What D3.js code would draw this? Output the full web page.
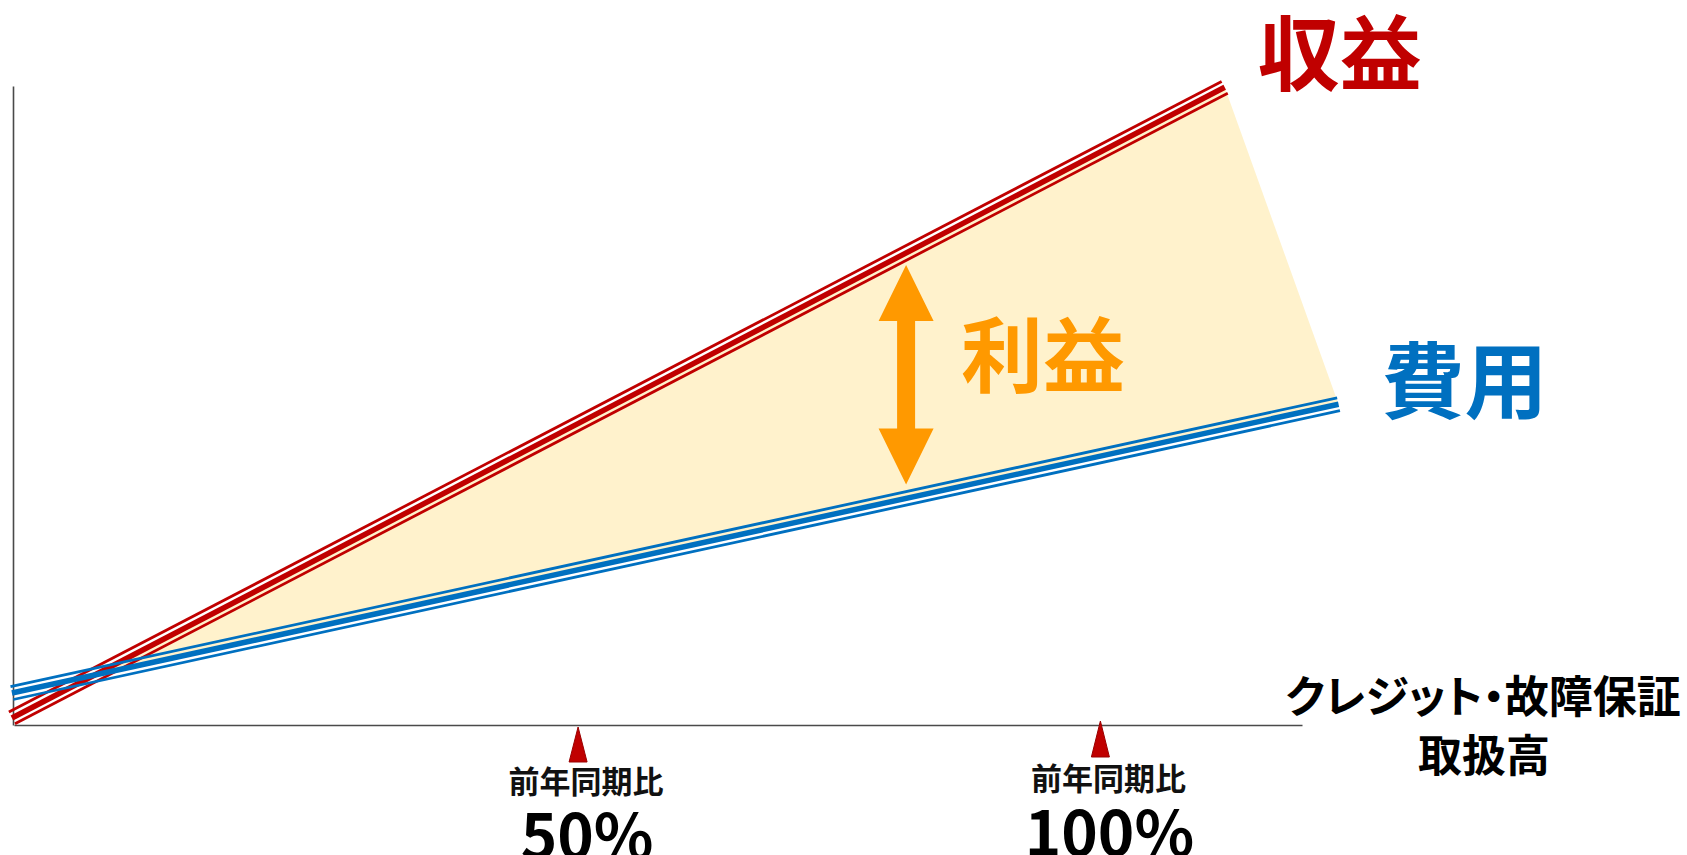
<!DOCTYPE html>
<html lang="ja">
<head>
<meta charset="utf-8">
<script src="https://cdn.jsdelivr.net/npm/d3@7"></script>
<style>
  html, body { margin: 0; padding: 0; background: #fff; }
  svg { display: block; font-family: "Noto Sans CJK JP", "Noto Sans", sans-serif; font-weight: bold; }
  .palt { font-feature-settings: "palt" 1; }
</style>
</head>
<body>
<svg id="chart" width="1687" height="855"></svg>
<script>
// Handling volume (x) and amount (y), in chart units
const xDomain = [-4, 119.3];
const yDomain = [0, 100];

// Revenue and cost lines (start / end points)
const revenue = [{x: -4.2, y: 1.1}, {x: 111.9, y: 99.8}];
const cost    = [{x: -4.2, y: 5.0}, {x: 122.8, y: 50.2}];

// Year-over-year markers on the x axis
const markerValues = [50, 100];
const markerLabels = ["前年同期比", "前年同期比"];
const markerPercents = ["50%", "100%"];

// Texts
const revenueLabel = "収益";
const costLabel = "費用";
const profitLabel = "利益";
const axisTitle = ["クレジット・故障保証", "取扱高"];
const profitArrowAt = 81.4;

const svg = d3.select("#chart");

const x = d3.scaleLinear().domain(xDomain).range([14, 1302]);
const y = d3.scaleLinear().domain(yDomain).range([725, 86]);

const RED = "#C00000", BLUE = "#0070C0", ORANGE = "#FF9900", FILL = "#FFF2CC";

// Value of a two-point line at xv
function lineAt(pts, xv) {
  const [a, b] = pts;
  return a.y + (b.y - a.y) * (xv - a.x) / (b.x - a.x);
}
// Intersection of the two lines (start of profit area)
const sR = (revenue[1].y - revenue[0].y) / (revenue[1].x - revenue[0].x);
const sC = (cost[1].y - cost[0].y) / (cost[1].x - cost[0].x);
const xCross = revenue[0].x + (lineAt(cost, revenue[0].x) - revenue[0].y) / (sR - sC);
const cross = {x: xCross, y: lineAt(revenue, xCross)};

// Profit area
svg.append("path")
  .attr("d", d3.line().x(d => x(d.x)).y(d => y(d.y))([cross, revenue[1], cost[1], cross]))
  .attr("fill", FILL);

// Axes (plain lines, no ticks)
svg.append("g")
  .attr("transform", `translate(0,${y(0)})`)
  .call(d3.axisBottom(x).tickValues([]).tickSizeOuter(0))
  .select(".domain").attr("stroke", "#4a4a4a").attr("stroke-width", 1.6);
svg.append("g")
  .attr("transform", `translate(${x(xDomain[0]) - 1},0)`)
  .call(d3.axisLeft(y).tickValues([]).tickSizeOuter(0))
  .select(".domain").attr("stroke", "#4a4a4a").attr("stroke-width", 1.6);

// Thin-thick-thin compound line: three parallel strokes with open gaps
function compound(pts, color) {
  const p = pts.map(d => [x(d.x), y(d.y)]);
  const dx = p[1][0] - p[0][0], dy = p[1][1] - p[0][1];
  const len = Math.hypot(dx, dy);
  const nx = -dy / len, ny = dx / len;
  const g = svg.append("g").attr("fill", "none").attr("stroke", color);
  [[-6.6, 2.8], [0, 5.5], [6.6, 2.8]].forEach(([off, w]) => {
    g.append("path")
      .attr("d", d3.line()(p.map(q => [q[0] + nx * off, q[1] + ny * off])))
      .attr("stroke-width", w);
  });
}
compound(revenue, RED);
compound(cost, BLUE);

// Double-headed profit arrow
const ax = x(profitArrowAt);
const arrowTop = y(lineAt(revenue, profitArrowAt)) + 12;
const arrowBot = y(lineAt(cost, profitArrowAt)) - 14;
const hl = 56, hw = 27.5, sw = 9;
svg.append("path")
  .attr("d", `M${ax},${arrowTop} L${ax + hw},${arrowTop + hl} L${ax + sw},${arrowTop + hl} L${ax + sw},${arrowBot - hl}
              L${ax + hw},${arrowBot - hl} L${ax},${arrowBot} L${ax - hw},${arrowBot - hl} L${ax - sw},${arrowBot - hl}
              L${ax - sw},${arrowTop + hl} L${ax - hw},${arrowTop + hl} Z`)
  .attr("fill", ORANGE);

svg.append("text").text(profitLabel)
  .attr("x", ax + 137).attr("y", 386)
  .attr("text-anchor", "middle").attr("font-size", 82).attr("fill", ORANGE);

// Series labels
svg.append("text").text(revenueLabel)
  .attr("x", x(revenue[1].x) + 115).attr("y", 84)
  .attr("text-anchor", "middle").attr("font-size", 82).attr("fill", RED);
svg.append("text").text(costLabel)
  .attr("x", x(cost[1].x) + 126).attr("y", 412)
  .attr("text-anchor", "middle").attr("font-size", 83).attr("fill", BLUE);

// Axis title
svg.append("text").text(axisTitle[0])
  .attr("class", "palt")
  .attr("x", 1483).attr("y", 713)
  .attr("text-anchor", "middle").attr("font-size", 44)
  .attr("fill", "#000");
svg.append("text").text(axisTitle[1])
  .attr("x", 1484).attr("y", 772)
  .attr("text-anchor", "middle").attr("font-size", 44).attr("fill", "#000");

// Markers with labels
const markerOffsets = [{tip: 727, base: 762, lab: 793, pct: 859}, {tip: 721, base: 757, lab: 790, pct: 856}];
markerValues.forEach((v, i) => {
  const mx = x(v), o = markerOffsets[i];
  svg.append("path")
    .attr("d", `M${mx},${o.tip} L${mx + 9},${o.base} L${mx - 9},${o.base} Z`)
    .attr("fill", RED).attr("stroke", "#9a0000").attr("stroke-width", 1);
  svg.append("text").text(markerLabels[i])
    .attr("x", mx + 8).attr("y", o.lab)
    .attr("text-anchor", "middle").attr("font-size", 31).attr("fill", "#111");
  svg.append("text").text(markerPercents[i])
    .attr("x", mx + 9).attr("y", o.pct)
    .attr("text-anchor", "middle").attr("font-size", 62).attr("fill", "#000");
});
</script>
</body>
</html>
